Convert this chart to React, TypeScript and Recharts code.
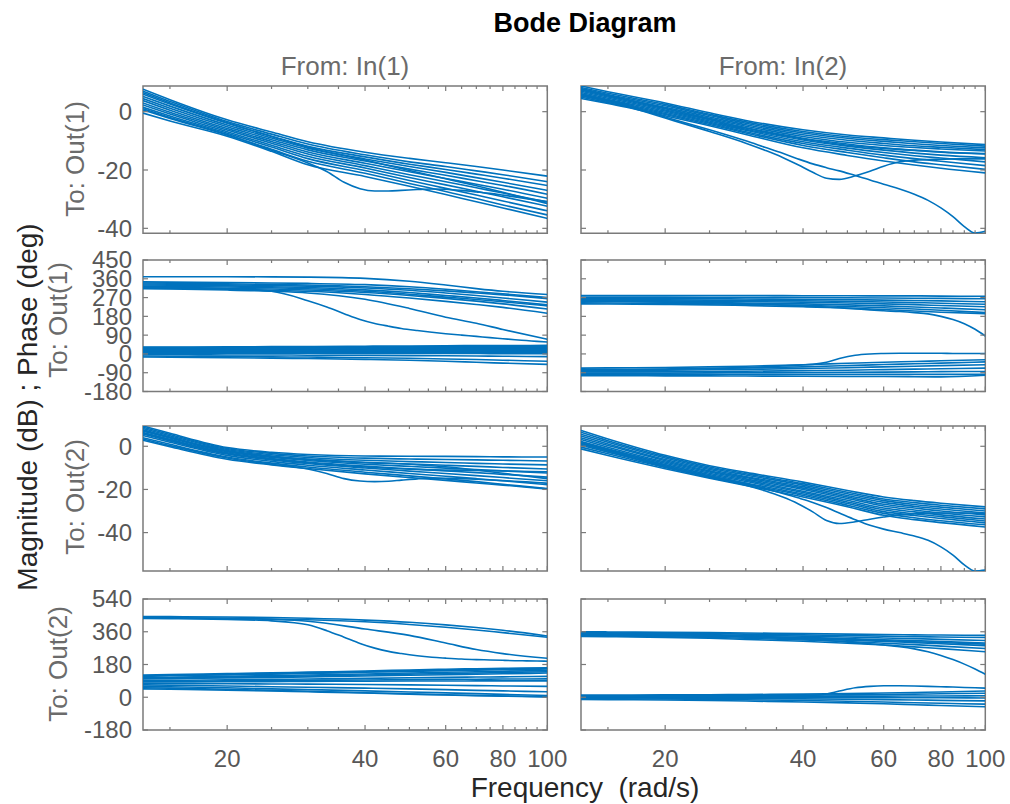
import { LineChart, Line, XAxis, YAxis, ReferenceArea } from "recharts"

// frequency grid (rad/s) for the regular curves, finer grid for the notched ones
const FREQ = [13.1, 15, 20, 25, 30, 40, 50, 60, 70, 80, 100]
const FREQ_FINE = [13.1, 15, 20, 25, 30, 33, 36, 39, 42, 45, 48, 52, 56, 60, 65, 70, 75, 80, 85, 90, 95, 100]
const X_TICKS = [15, 20, 25, 30, 35, 40, 45, 50, 55, 60, 65, 70, 75, 80, 85, 90, 95, 100]
const X_LABELS = [20, 40, 60, 80, 100]

const MAG1_TICKS = [-40, -20, 0]
const PH1_TICKS = [-180, -90, 0, 90, 180, 270, 360, 450]
const MAG2_TICKS = [-40, -20, 0]
const PH2_TICKS = [-180, 0, 180, 360, 540]

// To: Out(1), From: In(1) - magnitude (dB)
const mag11 = [
  [7.7, 4.1, -2.8, -7.0, -10.3, -13.9, -16.0, -17.5, -18.8, -20.0, -22.1],
  [7.0, 3.5, -3.4, -7.7, -11.1, -14.8, -17.2, -18.8, -20.3, -21.6, -24.0],
  [6.5, 3.0, -3.8, -8.5, -12.2, -16.6, -20.2, -23.0, -25.4, -27.6, -31.5],
  [6.0, 2.6, -4.0, -8.4, -11.9, -15.5, -18.0, -19.8, -21.4, -22.8, -25.3],
  [5.2, 1.9, -4.6, -9.0, -12.5, -16.2, -18.8, -20.8, -22.6, -24.2, -27.0],
  [4.5, 1.2, -5.2, -9.6, -13.1, -16.9, -19.7, -21.8, -23.7, -25.3, -28.3],
  [3.8, 0.5, -5.8, -10.2, -13.8, -17.7, -20.6, -22.9, -24.9, -26.6, -29.7],
  [3.0, -0.2, -6.3, -10.8, -14.5, -18.5, -21.6, -24.0, -26.1, -27.9, -31.0],
  [2.3, -0.8, -6.9, -11.5, -15.3, -19.3, -22.6, -25.1, -27.3, -29.2, -32.4],
  [1.5, -1.5, -7.4, -12.1, -16.1, -20.2, -23.6, -26.3, -28.6, -30.6, -34.0],
  [0.6, -2.3, -8.0, -12.9, -17.0, -21.1, -24.6, -27.4, -29.8, -32.0, -35.4],
  [-0.5, -3.2, -8.4, -13.6, -18.2, -22.2, -25.6, -28.4, -30.9, -33.0, -36.6],
]
const mag11Notch = [
  [1.0, -2.0, -7.8, -13.2, -17.6, -20.5, -24.2, -26.4, -27.2, -27.2, -27.0, -26.7, -26.5, -26.6, -27.0, -27.5, -28.0, -28.6, -29.2, -29.8, -30.3, -30.8],
]

// To: Out(1), From: In(2) - magnitude (dB)
const mag12 = [
  [8.8, 6.8, 3.0, -0.4, -3.0, -6.2, -8.0, -9.0, -9.8, -10.4, -11.3],
  [8.3, 6.3, 2.5, -0.9, -3.5, -6.8, -8.6, -9.6, -10.3, -10.9, -11.8],
  [7.9, 5.9, 2.0, -1.3, -4.0, -7.3, -9.1, -10.2, -11.0, -11.6, -12.4],
  [7.4, 5.4, 1.5, -1.8, -4.5, -7.9, -9.8, -10.9, -11.7, -12.2, -13.0],
  [7.0, 5.0, 1.0, -2.3, -5.0, -8.5, -10.5, -11.6, -12.3, -12.8, -13.5],
  [6.6, 4.6, 0.6, -2.8, -5.5, -9.1, -11.1, -12.4, -13.2, -13.8, -14.5],
  [6.2, 4.2, 0.2, -3.2, -6.0, -9.7, -11.8, -13.2, -14.2, -14.9, -15.8],
  [5.8, 3.8, -0.2, -3.6, -6.4, -10.3, -12.5, -14.0, -15.1, -15.9, -17.2],
  [5.4, 3.5, -0.6, -4.0, -6.9, -10.9, -13.2, -14.9, -16.1, -17.0, -18.5],
  [5.0, 3.1, -1.0, -4.4, -7.3, -11.6, -14.0, -15.8, -17.2, -18.2, -19.8],
  [4.5, 2.8, -1.4, -4.8, -7.8, -12.4, -15.0, -16.9, -18.3, -19.4, -21.0],
  [7.7, 5.6, 1.2, -2.6, -5.6, -9.4, -11.5, -12.6, -13.3, -13.9, -14.4],
]
const mag12Notch = [
  [5.5, 3.6, -2.2, -6.8, -10.8, -13.2, -15.6, -18.2, -20.8, -22.8, -23.2, -22.0, -20.4, -18.7, -17.2, -16.6, -16.4, -16.3, -16.2, -16.2, -16.2, -16.2],
  [6.0, 4.0, -1.8, -6.2, -10.0, -12.2, -14.2, -16.2, -17.9, -19.2, -20.3, -21.9, -23.4, -24.9, -26.5, -28.3, -30.4, -33.0, -36.0, -39.4, -41.6, -41.0],
]

// To: Out(1), From: In(1) - phase (deg)
const ph11 = [
  [370, 370, 370, 369, 368, 362, 348, 330, 313, 300, 285],
  [345, 344, 342, 340, 338, 332, 322, 310, 298, 288, 270],
  [340, 339, 336, 333, 330, 322, 312, 302, 292, 283, 265],
  [335, 334, 331, 328, 325, 316, 305, 292, 280, 268, 248],
  [330, 329, 326, 322, 318, 307, 294, 280, 268, 256, 235],
  [325, 324, 321, 317, 312, 300, 286, 272, 261, 250, 230],
  [320, 319, 315, 311, 306, 294, 280, 266, 253, 240, 215],
  [315, 314, 310, 305, 300, 285, 268, 252, 237, 223, 195],
  [312, 311, 306, 300, 292, 262, 218, 176, 147, 117, 70],
  [33, 33, 34, 35, 35, 37, 38, 39, 40, 40, 41],
  [30, 30, 31, 31, 32, 33, 34, 35, 36, 36, 37],
  [27, 27, 28, 28, 29, 30, 30, 31, 31, 32, 32],
  [24, 24, 24, 25, 25, 26, 27, 27, 28, 28, 29],
  [21, 21, 21, 22, 22, 23, 23, 24, 24, 24, 25],
  [18, 18, 18, 18, 19, 19, 20, 20, 20, 21, 21],
  [15, 15, 15, 15, 16, 16, 16, 17, 17, 17, 17],
  [12, 12, 12, 12, 12, 13, 13, 13, 13, 13, 14],
  [9, 9, 9, 9, 9, 9, 10, 10, 10, 10, 10],
  [6, 6, 6, 6, 6, 6, 6, 6, 6, 6, 5],
  [3, 3, 3, 3, 3, 2, 2, 2, 2, 1, 1],
  [-4, -4, -5, -5, -6, -7, -8, -9, -10, -11, -13],
  [-10, -11, -12, -14, -15, -18, -21, -24, -27, -30, -35],
  [-15, -16, -18, -20, -22, -26, -30, -35, -40, -44, -50],
]
const ph11Notch = [
  [318, 317, 312, 300, 255, 225, 193, 165, 146, 133, 122, 112, 104, 97, 90, 84, 78, 73, 68, 64, 60, 57],
]

// To: Out(1), From: In(2) - phase (deg)
const ph12 = [
  [280, 280, 280, 280, 280, 279, 279, 278, 278, 277, 276],
  [272, 272, 272, 271, 271, 270, 269, 268, 267, 266, 264],
  [265, 265, 264, 264, 263, 262, 260, 258, 256, 254, 250],
  [260, 260, 259, 258, 257, 255, 252, 249, 246, 243, 238],
  [255, 255, 254, 252, 251, 248, 244, 240, 236, 232, 226],
  [250, 250, 248, 246, 244, 240, 235, 230, 225, 220, 212],
  [245, 244, 242, 240, 238, 233, 227, 221, 215, 209, 198],
  [240, 239, 237, 235, 232, 226, 220, 213, 206, 200, 193],
  [-68, -67, -65, -62, -59, -52, -45, -40, -36, -33, -28],
  [-75, -74, -72, -70, -67, -62, -56, -51, -47, -44, -38],
  [-80, -79, -78, -76, -74, -70, -66, -62, -59, -56, -52],
  [-86, -86, -85, -84, -83, -80, -78, -75, -73, -71, -68],
  [-92, -92, -92, -91, -90, -89, -88, -87, -86, -85, -84],
  [-98, -98, -98, -98, -98, -98, -98, -98, -98, -98, -98],
  [-104, -104, -105, -105, -106, -107, -108, -108, -109, -110, -102],
]
const ph12Notch = [
  [255, 254, 250, 245, 240, 237, 234, 232, 229, 225, 221, 216, 211, 207, 203, 198, 192, 180, 165, 145, 118, 86],
  [-78, -77, -74, -70, -65, -62, -58, -54, -50, -40, -22, -6, 0, 2, 3, 3, 3, 3, 2, 2, 2, 2],
]

// To: Out(2), From: In(1) - magnitude (dB)
const mag21 = [
  [9.4, 6.0, -0.6, -2.8, -3.8, -4.5, -4.6, -4.7, -4.8, -4.9, -5.0],
  [8.8, 5.5, -1.0, -3.3, -4.5, -5.5, -5.9, -6.1, -6.3, -6.5, -6.8],
  [8.2, 4.9, -1.5, -3.9, -5.2, -6.5, -7.1, -7.5, -7.9, -8.2, -8.6],
  [7.6, 4.3, -2.0, -4.5, -5.9, -7.4, -8.2, -8.8, -9.3, -9.8, -10.5],
  [7.0, 3.8, -2.5, -5.1, -6.6, -8.3, -9.3, -10.1, -10.8, -11.4, -12.4],
  [6.4, 3.2, -3.0, -5.7, -7.3, -9.2, -10.4, -11.4, -12.2, -13.0, -14.3],
  [5.7, 2.5, -3.6, -6.3, -8.0, -10.1, -11.5, -12.6, -13.6, -14.5, -16.0],
  [5.0, 1.9, -4.2, -7.0, -8.8, -11.0, -12.6, -13.9, -15.0, -16.0, -17.8],
  [4.0, 0.9, -5.0, -7.8, -9.6, -12.0, -13.7, -15.1, -16.4, -17.6, -19.6],
  [2.8, -0.2, -6.0, -8.6, -10.3, -12.8, -14.5, -15.8, -17.0, -18.0, -19.8],
  [7.3, 4.1, -2.2, -4.8, -6.2, -7.6, -8.3, -9.5, -11.0, -12.5, -15.0],
  [6.0, 2.9, -3.2, -5.9, -7.6, -9.6, -10.6, -11.0, -11.2, -11.4, -11.8],
]
const mag21Notch = [
  [3.4, 0.3, -5.4, -8.3, -10.5, -12.6, -15.0, -16.1, -16.4, -16.2, -15.7, -15.1, -14.8, -14.8, -15.0, -15.3, -15.6, -15.9, -16.2, -16.5, -16.8, -17.1],
]

// To: Out(2), From: In(2) - magnitude (dB)
const mag22 = [
  [7.3, 3.4, -4.2, -9.0, -12.1, -16.6, -20.5, -23.5, -25.2, -26.4, -28.1],
  [6.5, 2.6, -4.8, -9.6, -12.7, -17.3, -21.3, -24.4, -26.1, -27.3, -29.0],
  [5.6, 1.9, -5.4, -10.2, -13.3, -18.0, -22.0, -25.2, -27.0, -28.2, -30.0],
  [4.8, 1.1, -6.1, -10.8, -14.0, -18.7, -22.8, -26.0, -27.8, -29.1, -30.9],
  [3.9, 0.4, -6.7, -11.4, -14.5, -19.4, -23.5, -26.9, -28.6, -30.0, -31.8],
  [3.1, -0.4, -7.3, -11.9, -15.1, -20.0, -24.2, -27.7, -29.5, -30.9, -32.7],
  [2.2, -1.2, -7.9, -12.5, -15.7, -20.8, -25.0, -28.6, -30.4, -31.8, -33.7],
  [1.4, -1.9, -8.5, -13.1, -16.3, -21.4, -25.8, -29.4, -31.3, -32.6, -34.6],
  [0.5, -2.7, -9.1, -13.7, -17.0, -22.1, -26.5, -30.3, -32.1, -33.5, -35.5],
  [-0.4, -3.5, -9.8, -14.2, -17.6, -22.8, -27.3, -31.1, -33.1, -34.5, -36.4],
  [-1.2, -4.3, -10.4, -14.8, -18.2, -23.5, -28.0, -32.0, -34.0, -35.4, -37.4],
]
const mag22Notch = [
  [1.0, -2.2, -9.6, -14.4, -18.0, -20.6, -23.4, -26.6, -30.4, -34.4, -35.8, -35.0, -33.8, -32.8, -31.8, -31.3, -31.0, -30.9, -30.9, -31.0, -31.0, -31.1],
  [1.6, -1.6, -9.0, -13.8, -17.2, -19.6, -21.8, -23.9, -26.0, -28.4, -30.9, -34.0, -36.6, -38.4, -40.0, -41.6, -43.6, -46.6, -50.4, -55.0, -57.8, -57.4],
]

// To: Out(2), From: In(1) - phase (deg)
const ph21 = [
  [443, 443, 441, 438, 434, 424, 412, 398, 383, 368, 337],
  [438, 437, 433, 428, 418, 375, 340, 298, 262, 240, 214],
  [436, 436, 434, 430, 426, 415, 400, 385, 370, 355, 330],
  [122, 125, 130, 134, 138, 144, 150, 154, 157, 159, 162],
  [118, 121, 126, 130, 134, 140, 146, 150, 153, 155, 158],
  [115, 118, 123, 127, 131, 137, 142, 146, 149, 151, 155],
  [108, 110, 115, 119, 122, 128, 133, 137, 140, 143, 147],
  [104, 106, 110, 114, 117, 122, 127, 130, 133, 136, 140],
  [100, 102, 106, 109, 112, 117, 121, 124, 127, 129, 133],
  [92, 93, 96, 98, 100, 104, 107, 109, 111, 112, 115],
  [88, 88, 90, 91, 93, 95, 97, 98, 99, 100, 101],
  [84, 84, 85, 86, 87, 88, 89, 89, 90, 90, 90],
  [76, 75, 74, 73, 72, 70, 68, 66, 64, 62, 60],
  [68, 66, 62, 58, 55, 50, 46, 42, 38, 35, 30],
  [60, 58, 52, 46, 42, 35, 29, 24, 20, 16, 10],
  [52, 50, 44, 38, 33, 25, 19, 14, 10, 7, 3],
  [46, 44, 39, 34, 30, 23, 17, 12, 9, 6, 2],
]
const ph21Notch = [
  [433, 432, 428, 420, 398, 366, 330, 296, 270, 252, 240, 228, 220, 215, 210, 207, 205, 203, 201, 200, 199, 198],
]

// To: Out(2), From: In(2) - phase (deg)
const ph22 = [
  [360, 359, 357, 355, 353, 350, 347, 345, 343, 342, 340],
  [355, 354, 352, 350, 347, 343, 339, 336, 333, 331, 328],
  [350, 349, 347, 344, 341, 336, 331, 326, 322, 318, 312],
  [346, 345, 342, 339, 335, 329, 322, 316, 311, 306, 298],
  [342, 341, 338, 334, 330, 322, 314, 307, 300, 294, 284],
  [338, 337, 333, 329, 324, 315, 306, 297, 289, 281, 268],
  [334, 333, 329, 324, 318, 308, 297, 287, 277, 267, 250],
  [344, 343, 341, 338, 334, 326, 318, 311, 305, 300, 292],
  [12, 12, 13, 14, 15, 17, 20, 23, 26, 29, 34],
  [8, 8, 9, 9, 10, 12, 13, 15, 17, 19, 22],
  [4, 4, 4, 4, 5, 5, 6, 6, 7, 7, 8],
  [0, 0, 0, 0, 0, -1, -2, -2, -3, -3, -4],
  [-4, -4, -5, -6, -7, -9, -11, -13, -15, -17, -20],
  [-8, -8, -10, -12, -14, -18, -22, -26, -30, -33, -38],
  [-12, -13, -15, -18, -21, -26, -31, -36, -41, -45, -52],
]
const ph22Notch = [
  [350, 349, 345, 339, 333, 329, 325, 321, 317, 312, 307, 300, 294, 287, 278, 266, 250, 230, 207, 182, 155, 126],
  [5, 5, 5, 5, 6, 6, 7, 8, 10, 18, 34, 52, 60, 63, 63, 62, 60, 58, 56, 54, 52, 50],
]

const BLUE = "#0072BD"
const BOX = "#7a7a7a"
const TICK_TEXT = "#575757"
const LABEL_GRAY = "#6b6b6b"
const FONT = '"Liberation Sans", Arial, Helvetica, sans-serif'

const AXIS_W = 80
const PAD_T = 16
const PAD_R = 28
const X_H = 45
const COL_X = [142.7, 580.7]
const PLOT_W = 404.3
const ROWS = [
  { top: 86, h: 147.3 },
  { top: 260, h: 131.5 },
  { top: 425.5, h: 145 },
  { top: 599, h: 131 },
]

function toPoints(freqs: number[], vals: number[]) {
  return freqs.map((f, i) => ({ f, v: vals[i] }))
}

function XTick(props: any) {
  const { x, y, payload, h, showLabel } = props
  const v = payload.value as number
  const major = X_LABELS.includes(v)
  const len = major ? 5 : 3
  return (
    <g>
      <line x1={x} x2={x} y1={y} y2={y - len} stroke={BOX} strokeWidth={1.2} />
      <line x1={x} x2={x} y1={y - h} y2={y - h + len} stroke={BOX} strokeWidth={1.2} />
      {showLabel && major ? (
        <text x={x} y={y + 29} textAnchor="middle" dominantBaseline="central" fill={TICK_TEXT} fontSize={24} fontFamily={FONT}>
          {v}
        </text>
      ) : null}
    </g>
  )
}

function YTick(props: any) {
  const { x, y, payload, w, showLabel } = props
  return (
    <g>
      <line x1={x} x2={x + 5} y1={y} y2={y} stroke={BOX} strokeWidth={1.2} />
      <line x1={x + w} x2={x + w - 5} y1={y} y2={y} stroke={BOX} strokeWidth={1.2} />
      {showLabel ? (
        <text x={x - 11} y={y} textAnchor="end" dominantBaseline="central" fill={TICK_TEXT} fontSize={24} fontFamily={FONT}>
          {payload.value}
        </text>
      ) : null}
    </g>
  )
}

type PanelProps = {
  left: number
  top: number
  h: number
  grid: number[][]
  notch: number[][]
  yDomain: [number, number]
  yTicks: number[]
  yLabels: boolean
  xLabels: boolean
}

function Panel(p: PanelProps) {
  const series = [...p.grid.map((v) => toPoints(FREQ, v)), ...p.notch.map((v) => toPoints(FREQ_FINE, v))]
  return (
    <div style={{ position: "absolute", left: p.left - AXIS_W, top: p.top - PAD_T }}>
      <LineChart
        width={AXIS_W + PLOT_W + PAD_R}
        height={PAD_T + p.h + X_H}
        margin={{ top: PAD_T, right: PAD_R, bottom: 0, left: 0 }}
      >
        <XAxis
          dataKey="f"
          type="number"
          scale="log"
          domain={[13.1, 100]}
          allowDataOverflow
          ticks={X_TICKS}
          interval={0}
          height={X_H}
          tickLine={false}
          axisLine={false}
          tickSize={0}
          tickMargin={0}
          tick={(t: any) => <XTick {...t} h={p.h} showLabel={p.xLabels} />}
        />
        <YAxis
          type="number"
          domain={p.yDomain}
          allowDataOverflow
          ticks={p.yTicks}
          interval={0}
          width={AXIS_W}
          tickLine={false}
          axisLine={false}
          tickSize={0}
          tickMargin={0}
          tick={(t: any) => <YTick {...t} w={PLOT_W} showLabel={p.yLabels} />}
        />
        {series.map((d, i) => (
          <Line
            key={i}
            data={d}
            dataKey="v"
            type="monotone"
            stroke={BLUE}
            strokeWidth={1.6}
            dot={false}
            activeDot={false}
            isAnimationActive={false}
          />
        ))}
        <ReferenceArea
          x1={13.1}
          x2={100}
          y1={p.yDomain[0]}
          y2={p.yDomain[1]}
          fill="none"
          stroke={BOX}
          strokeWidth={1.5}
          ifOverflow="visible"
        />
      </LineChart>
    </div>
  )
}

function Label(props: { x: number; y: number; text: string; size: number; color: string; rotate?: boolean; bold?: boolean }) {
  return (
    <div
      style={{
        position: "absolute",
        left: props.x,
        top: props.y,
        transform: `translate(-50%, -50%)${props.rotate ? " rotate(-90deg)" : ""}`,
        whiteSpace: "pre",
        fontFamily: FONT,
        fontSize: props.size,
        fontWeight: props.bold ? "bold" : "normal",
        color: props.color,
        lineHeight: 1,
      }}
    >
      {props.text}
    </div>
  )
}

export default function App() {
  const magDomain1: [number, number] = [-41.7, 8.8]
  const phDomain1: [number, number] = [-180, 450]
  const magDomain2: [number, number] = [-57.8, 9.4]
  const phDomain2: [number, number] = [-180, 540]
  return (
    <div style={{ position: "absolute", left: 0, top: 0, width: 1010, height: 804, background: "#fff", overflow: "hidden" }}>
      <Panel left={COL_X[0]} top={ROWS[0].top} h={ROWS[0].h} grid={mag11} notch={mag11Notch} yDomain={magDomain1} yTicks={MAG1_TICKS} yLabels xLabels={false} />
      <Panel left={COL_X[1]} top={ROWS[0].top} h={ROWS[0].h} grid={mag12} notch={mag12Notch} yDomain={magDomain1} yTicks={MAG1_TICKS} yLabels={false} xLabels={false} />
      <Panel left={COL_X[0]} top={ROWS[1].top} h={ROWS[1].h} grid={ph11} notch={ph11Notch} yDomain={phDomain1} yTicks={PH1_TICKS} yLabels xLabels={false} />
      <Panel left={COL_X[1]} top={ROWS[1].top} h={ROWS[1].h} grid={ph12} notch={ph12Notch} yDomain={phDomain1} yTicks={PH1_TICKS} yLabels={false} xLabels={false} />
      <Panel left={COL_X[0]} top={ROWS[2].top} h={ROWS[2].h} grid={mag21} notch={mag21Notch} yDomain={magDomain2} yTicks={MAG2_TICKS} yLabels xLabels={false} />
      <Panel left={COL_X[1]} top={ROWS[2].top} h={ROWS[2].h} grid={mag22} notch={mag22Notch} yDomain={magDomain2} yTicks={MAG2_TICKS} yLabels={false} xLabels={false} />
      <Panel left={COL_X[0]} top={ROWS[3].top} h={ROWS[3].h} grid={ph21} notch={ph21Notch} yDomain={phDomain2} yTicks={PH2_TICKS} yLabels xLabels />
      <Panel left={COL_X[1]} top={ROWS[3].top} h={ROWS[3].h} grid={ph22} notch={ph22Notch} yDomain={phDomain2} yTicks={PH2_TICKS} yLabels={false} xLabels />

      <Label x={585} y={23} text="Bode Diagram" size={27} color="#000" bold />
      <Label x={345} y={66} text="From: In(1)" size={26} color={LABEL_GRAY} />
      <Label x={783} y={66} text="From: In(2)" size={26} color={LABEL_GRAY} />
      <Label x={75} y={159} text="To: Out(1)" size={26} color={LABEL_GRAY} rotate />
      <Label x={58} y={320} text="To: Out(1)" size={26} color={LABEL_GRAY} rotate />
      <Label x={75} y={497} text="To: Out(2)" size={26} color={LABEL_GRAY} rotate />
      <Label x={58} y={664} text="To: Out(2)" size={26} color={LABEL_GRAY} rotate />
      <Label x={28} y={407} text="Magnitude (dB) ; Phase (deg)" size={28} color="#262626" rotate />
      <Label x={585} y={788} text="Frequency  (rad/s)" size={28} color="#262626" />
    </div>
  )
}
